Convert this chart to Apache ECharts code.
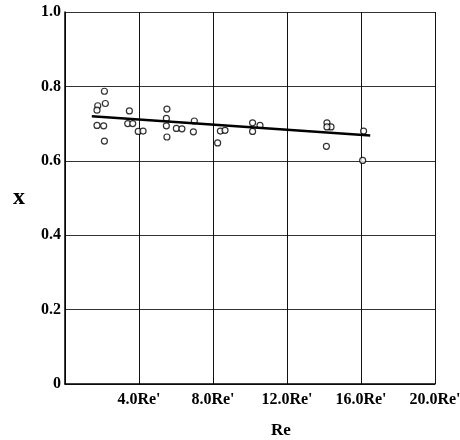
<!DOCTYPE html>
<html><head><meta charset="utf-8">
<script src="https://cdn.jsdelivr.net/npm/echarts@6/dist/echarts.min.js"></script>
<style>html,body{margin:0;padding:0;background:#fff}#c{width:460px;height:440px}</style>
</head><body><div id="c"></div>
<script>
const xTicks = [4, 8, 12, 16, 20];
const xTickLabels = ["4.0Re'", "8.0Re'", "12.0Re'", "16.0Re'", "20.0Re'"];
const yTickLabels = ["0", "0.2", "0.4", "0.6", "0.8", "1.0"];
const pointsX = [2.13, 1.77, 1.73, 2.18, 1.73, 2.09, 2.13, 3.48, 3.39, 3.66, 3.96, 4.22,
  5.51, 5.48, 5.48, 5.51, 6.02, 6.32, 6.99, 6.94, 8.25, 8.40, 8.65, 10.14, 10.14, 10.54,
  14.16, 14.38, 14.16, 14.13, 16.14, 16.09];
const pointsY = [0.787, 0.748, 0.736, 0.754, 0.695, 0.694, 0.653, 0.734, 0.700, 0.700, 0.679, 0.680,
  0.739, 0.714, 0.694, 0.664, 0.687, 0.686, 0.707, 0.678, 0.648, 0.680, 0.682, 0.702, 0.679, 0.695,
  0.702, 0.691, 0.691, 0.639, 0.680, 0.601];
const fitX = [1.45, 16.5];
const fitY = [0.720, 0.668];

const font = "'Liberation Serif', 'DejaVu Serif', serif";
const chart = echarts.init(document.getElementById('c'));
chart.setOption({
  animation: false,
  grid: {left: 65, right: 25, top: 12, bottom: 56, outerBoundsMode: 'none', containLabel: false},
  xAxis: {
    type: 'value', min: 0, max: 20, interval: 4,
    name: 'Re', nameLocation: 'middle', nameGap: 38, nameMoveOverlap: false,
    nameTextStyle: {fontFamily: font, fontWeight: 'bold', fontSize: 17, color: '#000', padding: [0, 0, 0, 62]},
    axisLine: {lineStyle: {color: '#000', width: 1.5}},
    axisTick: {show: false},
    axisLabel: {
      fontFamily: font, fontWeight: 'bold', fontSize: 16, color: '#000', margin: 8,
      formatter: v => { const i = xTicks.indexOf(v); return i >= 0 ? xTickLabels[i] : ''; }
    },
    splitLine: {show: true, lineStyle: {color: '#111', width: 1}}
  },
  yAxis: {
    type: 'value', min: 0, max: 1, interval: 0.2,
    name: 'x', nameLocation: 'middle', nameGap: 40, nameRotate: 0, nameMoveOverlap: false,
    nameTextStyle: {fontFamily: font, fontWeight: 'bold', fontSize: 24, color: '#000'},
    axisLine: {lineStyle: {color: '#000', width: 1.5}},
    axisTick: {show: false},
    axisLabel: {
      fontFamily: font, fontWeight: 'bold', fontSize: 16, color: '#000', margin: 4,
      formatter: v => yTickLabels[Math.round(v / 0.2)]
    },
    splitLine: {show: true, lineStyle: {color: '#333', width: 1}}
  },
  series: [
    {
      type: 'scatter', symbol: 'circle', symbolSize: 6,
      itemStyle: {color: '#fff', borderColor: '#000', borderWidth: 1.2},
      data: pointsX.map((x, i) => [x, pointsY[i]]), z: 3
    },
    {
      type: 'line', symbol: 'none', z: 4,
      lineStyle: {color: '#000', width: 2.5},
      data: fitX.map((x, i) => [x, fitY[i]])
    }
  ]
});
</script></body></html>
